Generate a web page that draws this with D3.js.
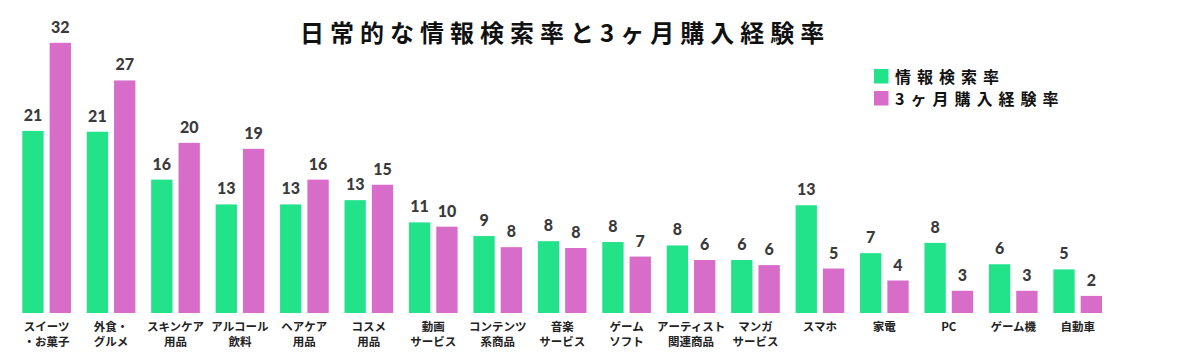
<!DOCTYPE html>
<html>
<head>
<meta charset="utf-8">
<script src="https://cdn.jsdelivr.net/npm/d3@7"></script>
<style>
  html, body { margin: 0; padding: 0; background: #fff; }
  svg { display: block; }
</style>
</head>
<body>
<svg id="chart" width="1200" height="357"></svg>
<script>
const categories = [
  ["スイーツ", "・お菓子"], ["外食・", "グルメ"], ["スキンケア", "用品"], ["アルコール", "飲料"],
  ["ヘアケア", "用品"], ["コスメ", "用品"], ["動画", "サービス"], ["コンテンツ", "系商品"],
  ["音楽", "サービス"], ["ゲーム", "ソフト"], ["アーティスト", "関連商品"], ["マンガ", "サービス"],
  ["スマホ"], ["家電"], ["PC"], ["ゲーム機"], ["自動車"]
];
const seriesNames = ["情報検索率", "3ヶ月購入経験率"];
const searchRate   = [21.3, 21.2, 15.6, 12.7, 12.7, 13.2, 10.6, 9.0, 8.4, 8.3, 7.9, 6.2, 12.6, 7.0, 8.2, 5.7, 5.1];
const purchaseRate = [31.6, 27.2, 19.9, 19.2, 15.6, 15.0, 10.1, 7.7, 7.6, 6.6, 6.2, 5.6, 5.2, 3.8, 2.6, 2.6, 2.0];
const colors = ["#22E38A", "#D76DC8"];
const titleText = "日常的な情報検索率と3ヶ月購入経験率";

const svg = d3.select("#chart");
const keys = categories.map((c, i) => i);

const x0 = d3.scaleBand().domain(keys).range([22.3, 1102]).paddingInner(0.245).paddingOuter(0);
const x1 = d3.scaleBand().domain([0, 1]).range([0, x0.bandwidth()]).paddingInner(0.22).paddingOuter(0);
const y = d3.scaleLinear().domain([0, 35]).range([313, 313 - 35 * 8.55]);

const data = keys.map(i => ({ i, vals: [searchRate[i], purchaseRate[i]] }));

const groups = svg.append("g").selectAll("g").data(data).join("g")
  .attr("transform", d => `translate(${x0(d.i)},0)`);

groups.selectAll("rect").data(d => d.vals.map((v, s) => ({ v, s }))).join("rect")
  .attr("x", d => x1(d.s))
  .attr("y", d => y(d.v))
  .attr("width", x1.bandwidth())
  .attr("height", d => y(0) - y(d.v))
  .attr("fill", d => colors[d.s]);

groups.selectAll("text.val").data(d => d.vals.map((v, s) => ({ v, s }))).join("text")
  .attr("class", "val")
  .attr("x", d => x1(d.s) + x1.bandwidth() / 2)
  .attr("y", d => y(d.v) - 10)
  .attr("text-anchor", "middle")
  .attr("font-family", "Lato, 'Open Sans', sans-serif")
  .attr("font-weight", 900)
  .attr("font-size", 16)
  .attr("fill", "#3a3a3a")
  .text(d => Math.round(d.v));

// x-axis labels
groups.append("text")
  .attr("x", x0.bandwidth() / 2)
  .attr("text-anchor", "middle")
  .attr("font-family", "'Noto Sans CJK JP', sans-serif")
  .attr("font-weight", 700)
  .attr("font-size", 11.5)
  .attr("fill", "#222")
  .selectAll("tspan").data(d => categories[d.i]).join("tspan")
  .attr("x", x0.bandwidth() / 2)
  .attr("y", (d, k) => 330.8 + k * 15.6)
  .text(d => d);

// title
svg.append("text")
  .attr("x", 300)
  .attr("y", 42)
  .attr("font-family", "'Noto Sans CJK JP', sans-serif")
  .attr("font-weight", 700)
  .attr("font-size", 24)
  .attr("letter-spacing", 6)
  .attr("fill", "#111")
  .text(titleText);

// legend
const legend = svg.append("g").selectAll("g").data(seriesNames).join("g")
  .attr("transform", (d, i) => `translate(874,${69 + i * 22})`);
legend.append("rect").attr("width", 14.5).attr("height", 14.5).attr("fill", (d, i) => colors[i]);
legend.append("text")
  .attr("x", 21)
  .attr("y", 13.5)
  .attr("font-family", "'Noto Sans CJK JP', sans-serif")
  .attr("font-weight", 700)
  .attr("font-size", 16)
  .attr("letter-spacing", 6)
  .attr("fill", "#111")
  .text(d => d);
</script>
</body>
</html>
